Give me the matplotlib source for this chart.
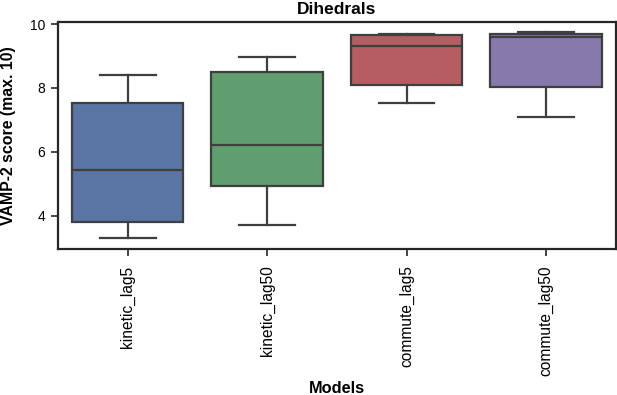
import matplotlib
matplotlib.use("Agg")
import matplotlib.pyplot as plt

models = ["kinetic_lag5", "kinetic_lag50", "commute_lag5", "commute_lag50"]
whislo = [3.30, 3.72, 7.54, 7.08]
q1 = [3.82, 4.94, 8.08, 8.02]
med = [5.45, 6.22, 9.30, 9.60]
q3 = [7.52, 8.49, 9.66, 9.70]
whishi = [8.41, 8.97, 9.70, 9.75]
colors = ["#5975a4", "#5f9e6e", "#b55d60", "#857aab"]

plt.rcParams['font.family'] = ['Liberation Sans', 'DejaVu Sans']

fig = plt.figure(figsize=(6.17, 3.95), dpi=100)
ax = fig.add_axes([0.094, 0.370, 0.904, 0.574])

stats = []
for i, m in enumerate(models):
    stats.append(dict(label=m, whislo=whislo[i], q1=q1[i], med=med[i], q3=q3[i], whishi=whishi[i], fliers=[]))

edge = "#3f3f3f"
lw = 1.6
bp = ax.bxp(stats, positions=range(len(models)), widths=0.8, patch_artist=True, showfliers=False,
            boxprops=dict(edgecolor=edge, linewidth=lw),
            medianprops=dict(color=edge, linewidth=lw),
            whiskerprops=dict(color=edge, linewidth=lw),
            capprops=dict(color=edge, linewidth=lw), capwidths=0.4)
for patch, c in zip(bp['boxes'], colors):
    patch.set_facecolor(c)

ax.set_xlim(-0.5, 3.5)
ax.set_ylim(2.97, 10.06)
ax.set_yticks([4, 6, 8, 10])
ax.set_xticks(range(len(models)))
ax.set_xticklabels(models, rotation=90, fontsize=11.2)
ax.tick_params(axis='y', labelsize=10, pad=4)
ax.tick_params(axis='x', pad=7)
ax.tick_params(axis='both', direction='out', length=5, width=1.2, color="#262626")
for s in ax.spines.values():
    s.set_linewidth(1.6)
    s.set_color("#262626")

ax.set_title("Dihedrals", fontsize=12.5, fontweight='bold', pad=6)
ax.set_ylabel("VAMP-2 score (max. 10)", fontsize=11.4, fontweight='bold')
ax.set_xlabel("Models", fontsize=11.8, fontweight='bold')
ax.yaxis.set_label_coords(-0.0896, 0.5)
ax.xaxis.set_label_coords(0.5, -0.617)
ax.xaxis.label.set_va('center')
ax.yaxis.label.set_va('center')

fig.savefig("out.png", dpi=100)
